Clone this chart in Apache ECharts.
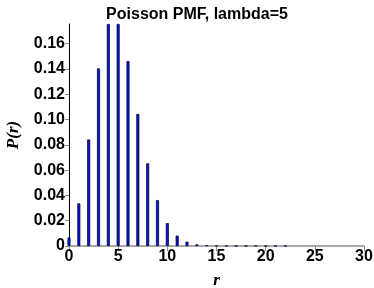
<!DOCTYPE html>
<html>
<head>
<meta charset="utf-8">
<script src="https://cdn.jsdelivr.net/npm/echarts@6/dist/echarts.min.js"></script>
<style>html,body{margin:0;padding:0;background:#fff}#c{width:374px;height:288px}</style>
</head>
<body>
<div id="c"></div>
<script>
const rValues = [0,1,2,3,4,5,6,7,8,9,10,11,12,13,14,15,16,17,18,19,20,21,22,23,24,25,26,27,28,29,30];
const pmfValues = [0.0067,0.0337,0.0842,0.1404,0.1755,0.1755,0.1462,0.1044,0.0653,0.0363,0.0181,0.0082,0.0034,0.0013,0.0005,0.0002,0.0001,0,0,0,0,0,0,null,null,null,null,null,null,null,null];
const xTicks = [0,5,10,15,20,25,30];
const yTicks = [0,0.02,0.04,0.06,0.08,0.10,0.12,0.14,0.16];

const chart = echarts.init(document.getElementById('c'), null, {renderer:'canvas'});
const labelFont = {color:'#000', fontWeight:'bold', fontSize:16, fontFamily:'Liberation Sans, Arial, sans-serif'};
chart.setOption({
  animation:false,
  title:{text:'Poisson PMF, lambda=5', left:192, textAlign:'center', top:2,
    textStyle:{color:'#000', fontWeight:'bold', fontSize:16, fontFamily:'Liberation Sans, Arial, sans-serif'}},
  grid:{left:69, right:10, top:24, bottom:42, containLabel:false, outerBoundsMode:'none'},
  xAxis:{type:'value', min:0, max:30, interval:5,
    name:'r', nameLocation:'middle', nameGap:26,
    nameTextStyle:{fontStyle:'italic', fontWeight:'bold', fontFamily:'Liberation Serif, Times New Roman, serif', fontSize:17, color:'#000'},
    axisLine:{show:true, lineStyle:{color:'#8c8c8c', width:1.5}},
    axisTick:{show:true, length:5, lineStyle:{color:'#8c8c8c'}},
    axisLabel:Object.assign({margin:3, formatter:v=>xTicks.includes(v)?String(v):''}, labelFont),
    splitLine:{show:false}},
  yAxis:{type:'value', min:0, max:0.1755, interval:0.02,
    name:'P(r)', nameLocation:'middle', nameGap:47, nameRotate:90,
    nameTextStyle:{fontStyle:'italic', fontWeight:'bold', fontFamily:'Liberation Serif, Times New Roman, serif', fontSize:17, color:'#000'},
    axisLine:{show:true, lineStyle:{color:'#000', width:1}},
    axisTick:{show:true, length:4, lineStyle:{color:'#8c8c8c'}},
    axisLabel:Object.assign({margin:4, showMaxLabel:false,
      formatter:v=>{const t=yTicks.find(k=>Math.abs(k-v)<1e-9); return t===undefined?'':(t===0?'0':t.toFixed(2));}}, labelFont),
    splitLine:{show:false}},
  series:[{type:'bar', barWidth:3,
    data:rValues.map((r,i)=>[r,pmfValues[i]]),
    itemStyle:{color:'#0014d8', borderColor:'#000033', borderWidth:0.7}}]
});
</script>
</body>
</html>
